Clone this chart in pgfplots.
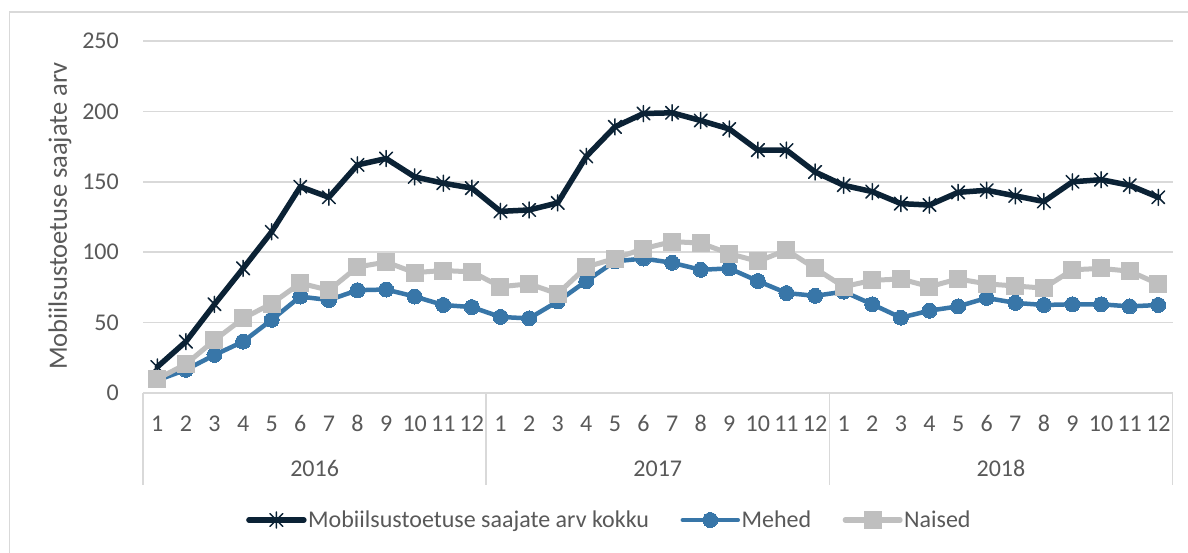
\documentclass[border=0pt]{standalone}
\usepackage{pgfplots}
\pgfplotsset{compat=1.18}
\usepackage{fontspec}
\setmainfont{Carlito}
\definecolor{tot}{HTML}{0B2235}
\definecolor{meh}{HTML}{3876A8}
\definecolor{nai}{HTML}{BFBFBF}
\definecolor{txt}{HTML}{595959}
\definecolor{grd}{HTML}{D9D9D9}
\pgfdeclareplotmark{xstar}{%
  \pgfpathmoveto{\pgfpoint{0pt}{\pgfplotmarksize}}%
  \pgfpathlineto{\pgfpoint{0pt}{-\pgfplotmarksize}}%
  \pgfpathmoveto{\pgfpoint{-0.8\pgfplotmarksize}{0.8\pgfplotmarksize}}%
  \pgfpathlineto{\pgfpoint{0.8\pgfplotmarksize}{-0.8\pgfplotmarksize}}%
  \pgfpathmoveto{\pgfpoint{-0.8\pgfplotmarksize}{-0.8\pgfplotmarksize}}%
  \pgfpathlineto{\pgfpoint{0.8\pgfplotmarksize}{0.8\pgfplotmarksize}}%
  \pgfusepathqstroke}
\newcommand{\cf}{\fontsize{24bp}{28bp}\selectfont}
\newcommand{\tf}{\fontsize{26.5bp}{31bp}\selectfont}
\begin{document}
\begin{tikzpicture}
\useasboundingbox (0,0) rectangle (1188bp,553bp);
\fill[white] (0,0) rectangle (1188bp,553bp);
\draw[grd, line width=1.5bp] (9.5bp,-20bp) -- (9.5bp,541bp) -- (1210bp,541bp);
\begin{axis}[
  at={(143bp,160bp)}, anchor=south west, scale only axis,
  width=1029.6bp, height=352bp,
  xmin=-0.5, xmax=35.5, ymin=0, ymax=250,
  clip=false,
  axis line style={draw=none},
  major tick length=0pt, tick style={draw=none},
  ytick={0,50,100,150,200,250},
  ymajorgrids, grid style={grd, line width=1.5bp},
  xtick={0,...,35},
  xticklabels={1,2,3,4,5,6,7,8,9,10,11,12,1,2,3,4,5,6,7,8,9,10,11,12,1,2,3,4,5,6,7,8,9,10,11,12},
  /pgf/number format/assume math mode=true,
  every tick label/.append style={font=\cf, text=txt},
  xticklabel style={anchor=base, inner sep=0pt, yshift=-39bp},
  yticklabel style={anchor=east, inner sep=0pt, xshift=-24bp},
  legend columns=3,
  legend cell align=left,
  legend style={at={(0.0971,-0.3608)}, anchor=west, draw=none, fill=none,
    font=\cf, text=txt, nodes={inner sep=1.5bp},
    /tikz/every even column/.append style={column sep=30bp}},
  legend image code/.code={\draw[mark repeat=2,mark phase=2,#1] plot coordinates {(0bp,0bp) (27.5bp,0bp) (55bp,0bp)};},
]
\draw[grd, line width=1.5bp] (axis cs:-0.5,0) -- (axis cs:35.5,0);
\draw[grd, line width=1.5bp] (axis cs:-0.5,0) -- ++(0pt,-92bp);
\draw[grd, line width=1.5bp] (axis cs:11.5,0) -- ++(0pt,-92bp);
\draw[grd, line width=1.5bp] (axis cs:23.5,0) -- ++(0pt,-92bp);
\draw[grd, line width=1.5bp] (axis cs:35.5,0) -- ++(0pt,-92bp);
\addplot[tot, line width=5.5bp, line join=round, line cap=round, mark=xstar, mark size=8bp, mark options={line width=1.5bp, solid}] coordinates {
(0,18.5) (1,36.5) (2,63) (3,88.5) (4,114.5) (5,146.5) (6,139) (7,162) (8,166.5) (9,153.5) (10,149) (11,145.5)
(12,129) (13,130) (14,135) (15,168) (16,189) (17,198.5) (18,199) (19,193.5) (20,187.5) (21,172.5) (22,172.5) (23,157)
(24,147.5) (25,143) (26,134.5) (27,133.5) (28,142.5) (29,144) (30,140) (31,136) (32,150) (33,151.5) (34,147.5) (35,139)
};
\addlegendentry{Mobiilsustoetuse saajate arv kokku}
\addplot[meh, line width=4.5bp, line join=round, line cap=round, mark=*, mark size=7.5bp, mark options={fill=meh, draw=meh, line width=0pt}] coordinates {
(0,9) (1,16.5) (2,27) (3,36.5) (4,52) (5,68.5) (6,66) (7,73) (8,73.5) (9,68.5) (10,62.5) (11,61)
(12,54) (13,53) (14,65) (15,79.5) (16,93.5) (17,95.5) (18,92.5) (19,87.5) (20,88.5) (21,79.5) (22,71) (23,69)
(24,72) (25,63) (26,53.5) (27,58.5) (28,61.5) (29,67.5) (30,64) (31,62.5) (32,63) (33,63) (34,61.5) (35,62.5)
};
\addlegendentry{Mehed}
\addplot[nai, line width=5bp, line join=round, line cap=round, mark=square*, mark size=8.5bp, mark options={fill=nai, draw=nai, line width=0pt}] coordinates {
(0,10) (1,20.5) (2,37.5) (3,53) (4,63.5) (5,78) (6,73) (7,89.5) (8,93) (9,85.5) (10,87) (11,86)
(12,75.5) (13,77.5) (14,70.5) (15,89.5) (16,95.5) (17,102.5) (18,107.5) (19,106.5) (20,99) (21,93.5) (22,101.5) (23,88.5)
(24,75.5) (25,80) (26,81) (27,75.5) (28,81) (29,77.5) (30,76) (31,74.5) (32,87.5) (33,88.5) (34,86.5) (35,77.5)
};
\addlegendentry{Naised}
\node[anchor=base, font=\cf, text=txt] at ([yshift=-83bp]axis cs:5.5,0) {2016};
\node[anchor=base, font=\cf, text=txt] at ([yshift=-83bp]axis cs:17.5,0) {2017};
\node[anchor=base, font=\cf, text=txt] at ([yshift=-83bp]axis cs:29.5,0) {2018};
\end{axis}
\node[rotate=90, font=\tf, text=txt] at (60bp,337bp) {Mobiilsustoetuse saajate arv};
\end{tikzpicture}
\end{document}
